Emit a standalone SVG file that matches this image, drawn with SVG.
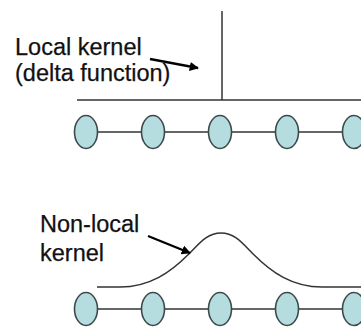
<svg xmlns="http://www.w3.org/2000/svg" width="361" height="329" viewBox="0 0 361 329">
<defs>
<style>
.lbl{font-family:"Liberation Sans",Arial,sans-serif;font-size:23.5px;fill:#111;stroke:#111;stroke-width:0.25}
.ax{stroke:#333;stroke-width:1.5;fill:none}
.edge{stroke:#333;stroke-width:1.3;fill:none}
.node{fill:#b5dde0;stroke:#3d4a4a;stroke-width:1.6}
.ptr{stroke:#000;stroke-width:2.3;fill:none}
</style>
<marker id="ah" viewBox="0 0 10 10" refX="9" refY="5" markerWidth="4" markerHeight="4" orient="auto" markerUnits="strokeWidth">
<path d="M0,0 L10,5 L0,10 z" fill="#000"/>
</marker>
</defs>
<g id="local-label">
<text class="lbl" x="15" y="55">Local kernel</text>
<text class="lbl" x="15" y="81">(delta function)</text>
</g>
<g id="delta-kernel">
<line class="ax" x1="222" y1="11" x2="222" y2="100"/>
<line class="ax" x1="77" y1="100" x2="361" y2="100"/>
</g>
<g id="nonlocal-label">
<text class="lbl" x="40" y="232">Non-local</text>
<text class="lbl" x="40" y="261">kernel</text>
</g>
<g id="gauss-kernel">
<path class="ax" d="M97,287 L120,287 C150,287 170.6,272.2 188.6,254.2 C199.6,243.2 207,233 221,233 C235,233 242.4,243.2 253.4,254.2 C271.4,272.2 292,287 322,287 L361,287"/>
</g>
<g id="connectors">
<line class="edge" x1="86" y1="132" x2="361" y2="132"/>
<line class="edge" x1="86" y1="309" x2="361" y2="309"/>
<line class="ptr" x1="150" y1="59" x2="198" y2="68" marker-end="url(#ah)"/>
<line class="ptr" x1="148" y1="236" x2="190" y2="253" marker-end="url(#ah)"/>
</g>
<g id="n1"><ellipse class="node" cx="86" cy="132" rx="11.5" ry="16.5"/></g>
<g id="n2"><ellipse class="node" cx="153" cy="132" rx="11.5" ry="16.5"/></g>
<g id="n3"><ellipse class="node" cx="220" cy="132" rx="11.5" ry="16.5"/></g>
<g id="n4"><ellipse class="node" cx="287" cy="132" rx="11.5" ry="16.5"/></g>
<g id="n5"><ellipse class="node" cx="354" cy="132" rx="11.5" ry="16.5"/></g>
<g id="m1"><ellipse class="node" cx="86" cy="309" rx="11.5" ry="16.5"/></g>
<g id="m2"><ellipse class="node" cx="153" cy="309" rx="11.5" ry="16.5"/></g>
<g id="m3"><ellipse class="node" cx="220" cy="309" rx="11.5" ry="16.5"/></g>
<g id="m4"><ellipse class="node" cx="287" cy="309" rx="11.5" ry="16.5"/></g>
<g id="m5"><ellipse class="node" cx="354" cy="309" rx="11.5" ry="16.5"/></g>
</svg>
